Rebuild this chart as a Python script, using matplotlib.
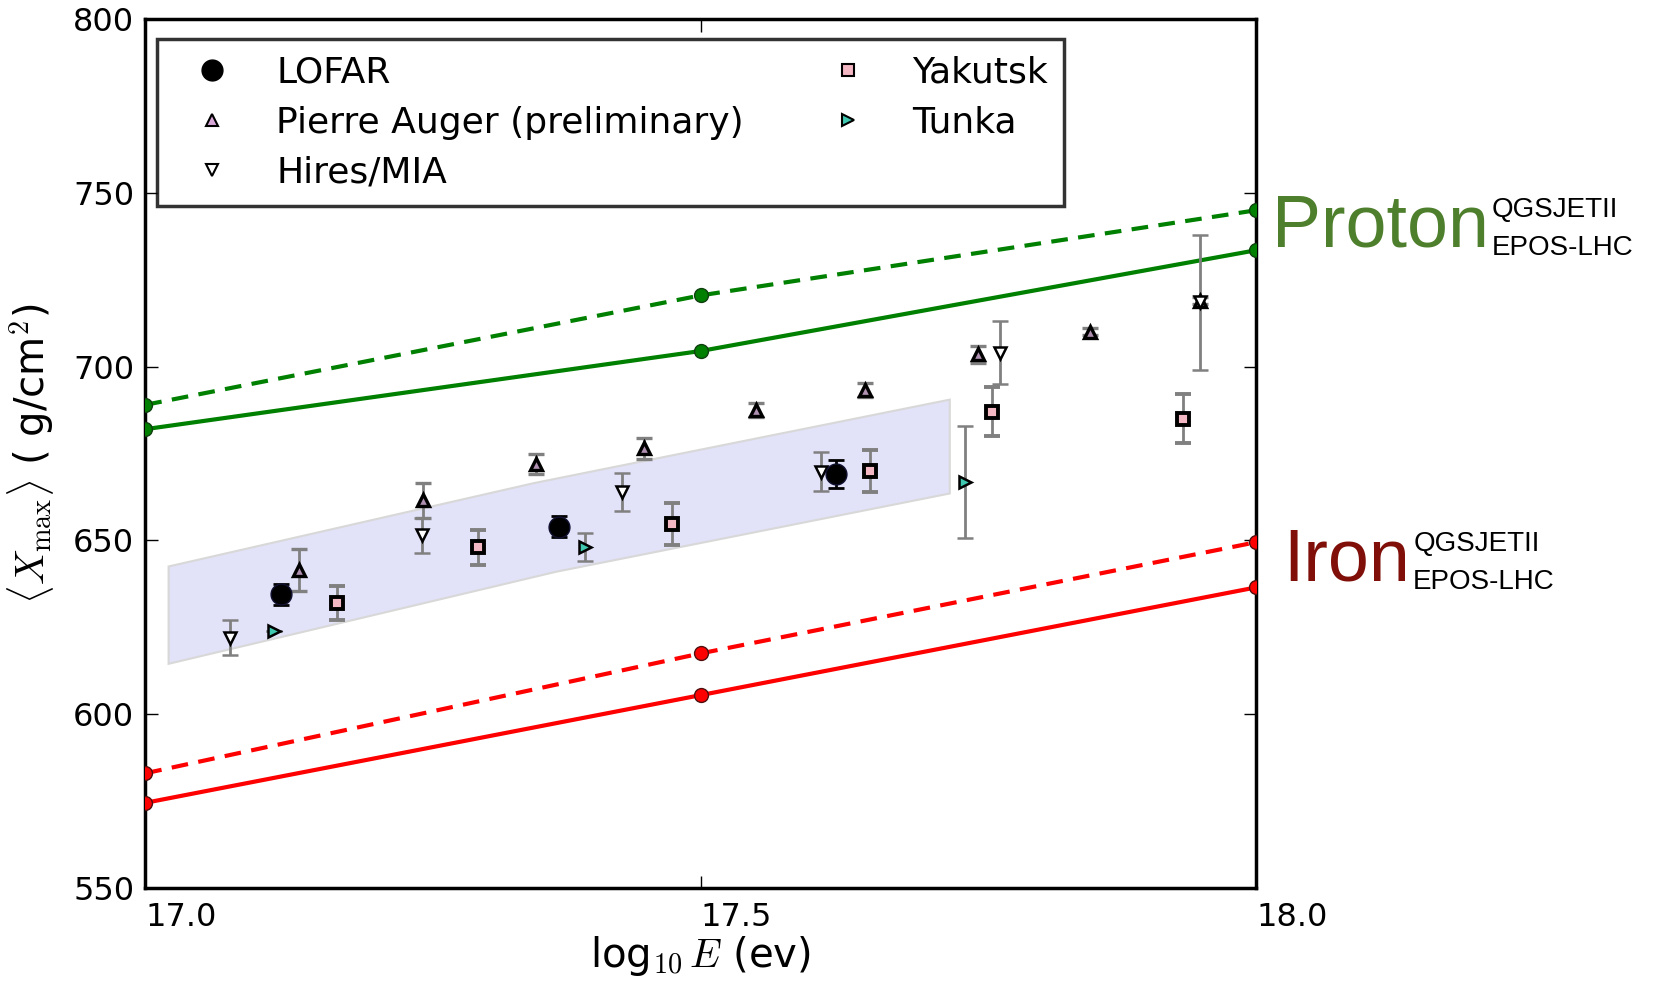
import matplotlib
matplotlib.use("Agg")
import matplotlib.pyplot as plt
from matplotlib.lines import Line2D

plt.rcParams['font.family'] = 'DejaVu Sans'
plt.rcParams['mathtext.fontset'] = 'cm'

# modelos (QGSJETII discontinua, EPOS-LHC continua)
logE_modelo = [17.0, 17.5, 18.0]
proton_qgs = [689, 720.5, 745]
proton_epos = [682, 704.5, 733.5]
hierro_qgs = [583, 617.5, 649.5]
hierro_epos = [574.5, 605.5, 636.5]

# LOFAR
lofar_x = [17.122, 17.372, 17.622]
lofar_y = [634.5, 654, 669]
lofar_err = [3, 3, 4]

# Pierre Auger (preliminary)
auger_x = [17.138, 17.250, 17.352, 17.449, 17.550, 17.648, 17.749, 17.850, 17.949]
auger_y = [641.5, 661.5, 672, 676.5, 687.5, 693.2, 703.5, 710, 719]
auger_err = [6, 5, 3, 3, 2, 2, 2.5, 1, 1]

# Hires/MIA
hires_x = [17.076, 17.249, 17.429, 17.608, 17.769, 17.949]
hires_y = [622, 651.5, 664, 669.8, 704, 718.5]
hires_err = [5, 5, 5.5, 5.5, 9, 19.5]

# Yakutsk
yak_x = [17.173, 17.299, 17.474, 17.652, 17.762, 17.934]
yak_y = [632, 648, 654.8, 670, 687, 685]
yak_err = [5, 5, 6, 6, 7, 7]

# Tunka
tunka_x = [17.116, 17.396, 17.738]
tunka_y = [624, 648, 666.8]
tunka_err = [0, 4, 16]

# banda sombreada
banda_x = [17.021, 17.35, 17.724, 17.724, 17.37, 17.021]
banda_y = [642.5, 666.5, 690.5, 663.5, 641, 614.5]

fig = plt.figure(figsize=(16.62, 9.81), dpi=100)
ax = fig.add_axes([0.0874, 0.0948, 0.6686, 0.8858])

ax.fill(banda_x, banda_y, facecolor='#e2e2f9', edgecolor='#d8d8d8', lw=1.5, zorder=1)

ax.plot(logE_modelo, proton_qgs, '--o', color='green', lw=3, ms=10, mec='#104010', dashes=(4, 2.5), zorder=3)
ax.plot(logE_modelo, proton_epos, '-o', color='green', lw=3, ms=10, mec='#104010', zorder=3)
ax.plot(logE_modelo, hierro_qgs, '--o', color='red', lw=3, ms=10, mec='#501010', dashes=(4, 2.5), zorder=3)
ax.plot(logE_modelo, hierro_epos, '-o', color='red', lw=3, ms=10, mec='#501010', zorder=3)

gris = '#808080'
ax.errorbar(auger_x, auger_y, yerr=auger_err, fmt='^', ms=8, mfc='#b090b0', mec='black', mew=2.4,
            ecolor=gris, elinewidth=2, capsize=6, capthick=2, zorder=4)
ax.errorbar(hires_x, hires_y, yerr=hires_err, fmt='v', ms=9, mfc='white', mec='black', mew=1.8,
            ecolor=gris, elinewidth=2, capsize=6, capthick=2, zorder=4)
ax.errorbar(yak_x, yak_y, yerr=yak_err, fmt='s', ms=9, mfc='#f4b8c4', mec='black', mew=2.8,
            ecolor=gris, elinewidth=2, capsize=6, capthick=2, zorder=4)
ax.errorbar(tunka_x, tunka_y, yerr=tunka_err, fmt='>', ms=9, mfc='#40c8b0', mec='black', mew=1.8,
            ecolor=gris, elinewidth=2, capsize=6, capthick=2, zorder=4)
ax.errorbar(lofar_x, lofar_y, yerr=lofar_err, fmt='o', ms=15, mfc='black', mec='#101030',
            ecolor='black', elinewidth=2, capsize=6, capthick=2, zorder=5)

ax.set_xlim(17.0, 18.0)
ax.set_ylim(550, 800)
ax.set_xticks([17.0, 17.5, 18.0])
ax.set_xticklabels(['17.0', '17.5', '18.0'])
ax.set_yticks([550, 600, 650, 700, 750, 800])
for lbl in ax.get_xticklabels():
    lbl.set_ha('left')
ax.tick_params(direction='in', length=9, width=1, labelsize=23, top=True, right=True, pad=8)
ax.tick_params(axis='x', pad=10)
for s in ax.spines.values():
    s.set_linewidth(2.5)

ax.set_xlabel(r'log$_{10}\,E$ (ev)', fontsize=29, labelpad=1)
ax.set_ylabel(r'$\langle X_{\rm max}\rangle$ ( g/cm$^2$)', fontsize=29, labelpad=12)

# leyenda
handles = [
    Line2D([], [], ls='none', marker='o', ms=15, mfc='black', mec='black'),
    Line2D([], [], ls='none', marker='^', ms=9, mfc='#d8a8d8', mec='black', mew=1.5),
    Line2D([], [], ls='none', marker='v', ms=9, mfc='white', mec='black', mew=1.5),
    Line2D([], [], ls='none', marker='s', ms=9, mfc='#f4b8c4', mec='black', mew=1.5),
    Line2D([], [], ls='none', marker='>', ms=9, mfc='#40c8b0', mec='black', mew=1.5),
]
etiquetas = ['LOFAR', 'Pierre Auger (preliminary)', 'Hires/MIA', 'Yakutsk', 'Tunka']
leg = ax.legend(handles, etiquetas, ncol=2, loc='upper left', bbox_to_anchor=(0.0105, 0.977),
                borderaxespad=0, fontsize=26, frameon=True, fancybox=False, edgecolor='black',
                handletextpad=0.7, columnspacing=1.8, labelspacing=0.45, borderpad=0.45,
                handlelength=2.15)
leg.get_frame().set_linewidth(2.5)

# etiquetas de modelos
fuente = 'Liberation Sans'
ax.text(18.014, 734.5, 'Proton', fontsize=53, color='#4e7f2c', va='baseline', family=fuente, clip_on=False)
ax.text(18.212, 743, 'QGSJETII', fontsize=20, va='baseline', family=fuente, clip_on=False)
ax.text(18.212, 732, 'EPOS-LHC', fontsize=20, va='baseline', family=fuente, clip_on=False)
ax.text(18.024, 638.5, 'Iron', fontsize=53, color='#7f0f08', va='baseline', family=fuente, clip_on=False)
ax.text(18.141, 647, 'QGSJETII', fontsize=20, va='baseline', family=fuente, clip_on=False)
ax.text(18.141, 636, 'EPOS-LHC', fontsize=20, va='baseline', family=fuente, clip_on=False)

fig.savefig('out.png', dpi=100)
